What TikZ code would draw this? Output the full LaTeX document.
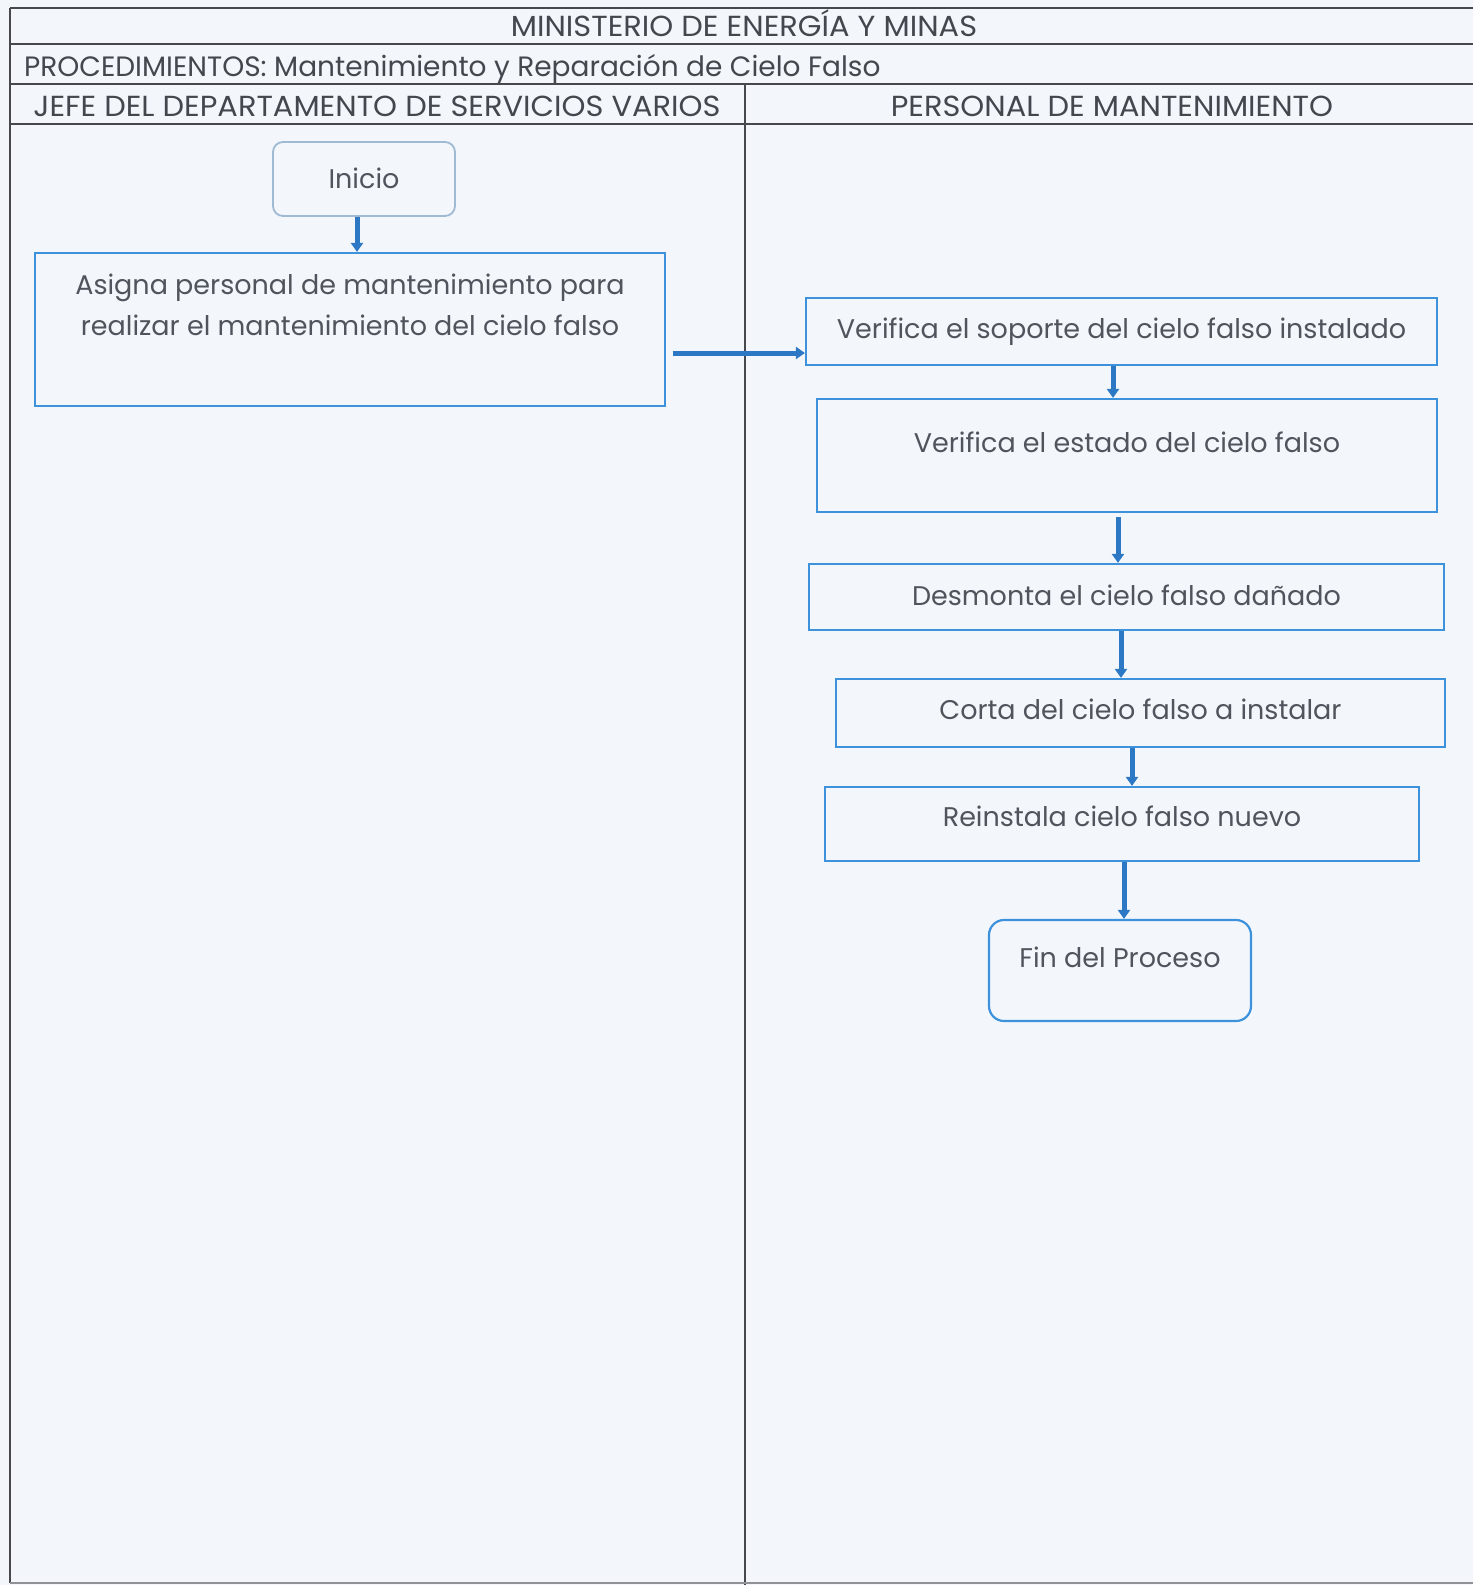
\documentclass[tikz,border=0pt]{standalone}
\usepackage{fontspec}
\setmainfont{Poppins}
\newfontfamily\hdrfont{Poppins}[FakeStretch=1.05]
\newfontfamily\subfont{Poppins}
\usetikzlibrary{arrows.meta,calc}
\definecolor{bg}{RGB}{243,247,252}
\definecolor{boxblue}{RGB}{62,146,220}
\definecolor{arrblue}{RGB}{44,120,196}
\definecolor{txt}{RGB}{80,84,92}
\definecolor{rulec}{RGB}{70,72,78}
\definecolor{soft}{RGB}{160,186,212}
\tikzset{
  box/.style={draw=boxblue, line width=2.2pt, inner sep=0pt, fill=bg, anchor=base,
    text=txt, font=\fontsize{27}{41}\selectfont},
  term/.style={box, draw=soft, rounded corners=10pt, line width=1.8pt},
  hdr/.style={inner sep=0pt, anchor=base, text=txt!85!black, font=\hdrfont\fontsize{29}{32}\selectfont},
  arr/.style={draw=arrblue, line width=5pt, -{Triangle[length=9pt,width=12pt]}},
  hline/.style={draw=rulec, line width=2pt},
}
\begin{document}
\begin{tikzpicture}[x=1pt,y=-1pt]
\fill[bg] (0,0) rectangle (1473,1585);
\useasboundingbox (0,0) rectangle (1473,1585);
% table
\draw[hline, line width=2.6pt] (10,8) -- (1473,8);
\draw[hline] (10,43.5) -- (1473,43.5);
\draw[hline] (10,84) -- (1473,84);
\draw[hline] (10,124) -- (1473,124);
\draw[draw=rulec, line width=1.6pt] (10,8) -- (10,1583);
\draw[draw=rulec, line width=1.6pt] (745,84) -- (745,1585);
\draw[draw=rulec!60, line width=1.6pt] (10,1583) -- (1473,1583);
% header texts
\node[hdr] (t1) at (744,36) {MINISTERIO DE ENERGÍA Y MINAS};
\node[hdr, anchor=base west, font=\subfont\fontsize{28}{32}\selectfont] (t2) at (24,76) {PROCEDIMIENTOS: Mantenimiento y Reparación de Cielo Falso};
\node[hdr] (t3) at (377,116) {JEFE DEL DEPARTAMENTO DE SERVICIOS VARIOS};
\node[hdr] (t4) at (1112,116) {PERSONAL DE MANTENIMIENTO};
% nodes
\node[term, minimum width=182pt, text height=46pt, text depth=28pt] (ini) at (364,188) {Inicio};
\node[box, minimum width=630pt, text height=41pt, text depth=112pt] (asig) at (350,294)
  {\begin{tabular}[t]{@{}c@{}}Asigna personal de mantenimiento para\\realizar el mantenimiento del cielo falso\end{tabular}};
\node[box, minimum width=631pt, text height=40pt, text depth=27pt] (v1) at (1121.5,338) {Verifica el soporte del cielo falso instalado};
\node[box, minimum width=620pt, text height=53.5pt, text depth=59.5pt] (v2) at (1127,452.5) {Verifica el estado del cielo falso};
\node[box, minimum width=635pt, text height=41.5pt, text depth=24.5pt] (des) at (1126.5,605.5) {Desmonta el cielo falso dañado};
\node[box, minimum width=609pt, text height=40.5pt, text depth=27.5pt] (cor) at (1140.5,719.5) {Corta del cielo falso a instalar};
\node[box, minimum width=594pt, text height=39.5pt, text depth=34.5pt] (rei) at (1122,826.5) {Reinstala cielo falso nuevo};
\node[term, draw=boxblue, rounded corners=15pt, line width=2.2pt, minimum width=262pt, text height=47pt, text depth=54pt] (fin) at (1120,967) {Fin del Proceso};
% connectors
\draw[arr] ([xshift=-7pt]ini.south) -- ([xshift=7pt]asig.north);
\draw[arr] ([xshift=7pt,yshift=-23.5pt]asig.east) -- ([yshift=-21.5pt]v1.west);
\draw[arr] ([xshift=-8.5pt]v1.south) -- ([xshift=-14pt]v2.north);
\draw[arr] ([xshift=-9pt,yshift=-4pt]v2.south) -- ([xshift=-8.5pt]des.north);
\draw[arr] ([xshift=-5.5pt]des.south) -- ([xshift=-19.5pt]cor.north);
\draw[arr] ([xshift=-8.5pt]cor.south) -- ([xshift=10pt]rei.north);
\draw[arr] ([xshift=2pt]rei.south) -- ([xshift=4pt]fin.north);
\end{tikzpicture}
\end{document}
